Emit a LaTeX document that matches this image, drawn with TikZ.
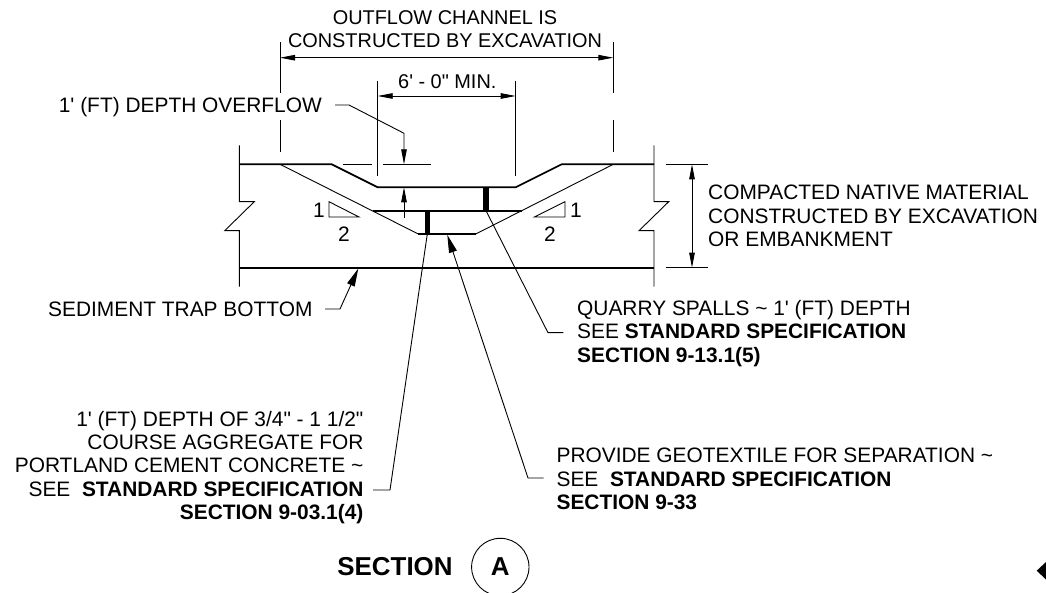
\documentclass[tikz,border=0pt]{standalone}
\usepackage{fontspec}
\setmainfont[Ligatures=TeXOff]{Liberation Sans}
\usetikzlibrary{arrows.meta}
\tikzset{
  dimtxt/.style={inner sep=0pt,font=\fontsize{19.9}{22.7}\selectfont,align=center},
  txt/.style={inner sep=0pt,font=\fontsize{20.9}{23.3}\selectfont,align=left},
  txtr/.style={txt,align=right},
  titletxt/.style={inner sep=0pt,font=\fontsize{25.9}{30}\selectfont\bfseries},
  thin line/.style={line width=0.9pt},
  ground/.style={line width=1.7pt},
  dim/.style={line width=0.9pt,{Triangle[length=15pt,width=5.5pt]}-{Triangle[length=15pt,width=5.5pt]}},
  leader/.style={line width=0.9pt,-{Triangle[length=15pt,width=5.5pt]}},
  bigleader/.style={line width=0.9pt,-{Triangle[length=18pt,width=8pt]}},
  bar/.style={line width=5.5pt}
}
\begin{document}
\begin{tikzpicture}[x=1pt,y=-1pt]
  \useasboundingbox (0,0) rectangle (1046,593);

  % Ground and channel
  \draw[ground] (239.3,164.3) -- (331.7,164.3) -- (377.7,187.3) -- (515.7,187.3)
    -- (561.7,164.3) -- (654,164.3);
  \draw[ground] (239.3,267.7) -- (654,267.7);
  \draw[thin line] (280,164.3) -- (418.3,234);
  \draw[ground] (418.3,234) -- (475.7,234);
  \draw[thin line] (475.7,234) -- (613.3,164.3);
  \draw[ground] (372.7,210.7) -- (521.7,210.7);
  \draw[bar] (486,187.3) -- (486,210.7);
  \draw[bar] (427.3,210.7) -- (427.3,234);

  % Break lines
  \draw[thin line] (239.3,145.3) -- (239.3,201.7) -- (254.3,201.7) -- (224.7,230.7)
    -- (239.3,230.7) -- (239.3,286.7);
  \draw[thin line] (654,145.3) -- (654,201.7) -- (668.7,201.7) -- (639,230.7)
    -- (654,230.7) -- (654,286.7);

  % Extension lines
  \foreach \x in {280,613.3} {
    \draw[thin line] (\x,42.3) -- (\x,92.7);
    \draw[thin line] (\x,120) -- (\x,152.3);
  }
  \foreach \x in {377.7,515.7}
    \draw[thin line] (\x,81) -- (\x,175.7);
  \draw[thin line] (343.3,164.3) -- (372.3,164.3);
  \draw[thin line] (383.3,164.3) -- (430.7,164.3);
  \draw[thin line] (665.7,164.3) -- (707.7,164.3);
  \draw[thin line] (665.7,267.7) -- (707.7,267.7);

  % Dimensions
  \coordinate (chanl) at (280,57.7);
  \coordinate (chanr) at (613.3,57.7);
  \coordinate (minl) at (377.7,96);
  \coordinate (minr) at (515.7,96);
  \coordinate (comptop) at (692,164.3);
  \coordinate (compbot) at (692,267.7);
  \draw[dim] (chanl) -- (chanr);
  \draw[dim] (minl) -- (minr);
  \draw[dim] (comptop) -- (compbot);
  \node[dimtxt] (outflow) at (445,29.5) {OUTFLOW CHANNEL IS\\CONSTRUCTED BY EXCAVATION};
  \node[dimtxt] (minlabel) at (447.3,81.7) {6' - 0" MIN.};

  % Slope triangles
  \draw[thin line] (329,201.7) -- (329,217) -- (359,217) -- cycle;
  \draw[thin line] (565,201.7) -- (565,217) -- (534.3,217) -- cycle;
  \node[txt] (rise1) at (319,210) {1};
  \node[txt] (run1) at (344,234) {2};
  \node[txt] (rise2) at (576,210) {1};
  \node[txt] (run2) at (550,234) {2};

  % Labels
  \node[txt,anchor=east] (overflow) at (322,107) {1' (FT) DEPTH OVERFLOW};
  \node[txt,anchor=west] (native) at (708,216) {COMPACTED NATIVE MATERIAL\\CONSTRUCTED BY EXCAVATION\\OR EMBANKMENT};
  \node[txt,anchor=east] (trap) at (312.7,309) {SEDIMENT TRAP BOTTOM};
  \node[txt,anchor=west] (quarry) at (577,333.5) {QUARRY SPALLS \textasciitilde{} 1' (FT) DEPTH\\SEE \textbf{STANDARD SPECIFICATION}\\\textbf{SECTION 9-13.1(5)}};
  \node[txtr,anchor=east] (aggregate) at (363.6,467.5) {1' (FT) DEPTH OF 3/4" - 1 1/2"\\COURSE AGGREGATE FOR\\PORTLAND CEMENT CONCRETE \textasciitilde\\SEE\ \ \textbf{STANDARD SPECIFICATION}\\\textbf{SECTION 9-03.1(4)}};
  \node[txt,anchor=west] (geotextile) at (556.4,479) {PROVIDE GEOTEXTILE FOR SEPARATION \textasciitilde\\SEE\ \ \textbf{STANDARD SPECIFICATION}\\\textbf{SECTION 9-33}};

  % Leaders
  \draw[leader] (335,105) -- (349,105) -- (404,133.3) -- (404,164.3);
  \draw[leader] (404,217.7) -- (404,187.3);
  \draw[bigleader] (325,309) -- (340,309) -- (358.3,268.5);
  \draw[bigleader] (543.6,478) -- (528,478) -- (447.3,234.8);
  \draw[thin line] (563.3,332.7) -- (548,332.7) -- (486,210.7);
  \draw[thin line] (373,490) -- (390,490) -- (427.3,234);

  % Title
  \node[titletxt] (section) at (395,566.7) {SECTION};
  \node[draw,circle,thin line,minimum size=57.4pt,inner sep=0pt,titletxt] (mark) at (500.3,567) {A};
  \fill (1036.7,570.7) -- (1046,562) -- (1046,579.5) -- cycle;
\end{tikzpicture}
\end{document}
